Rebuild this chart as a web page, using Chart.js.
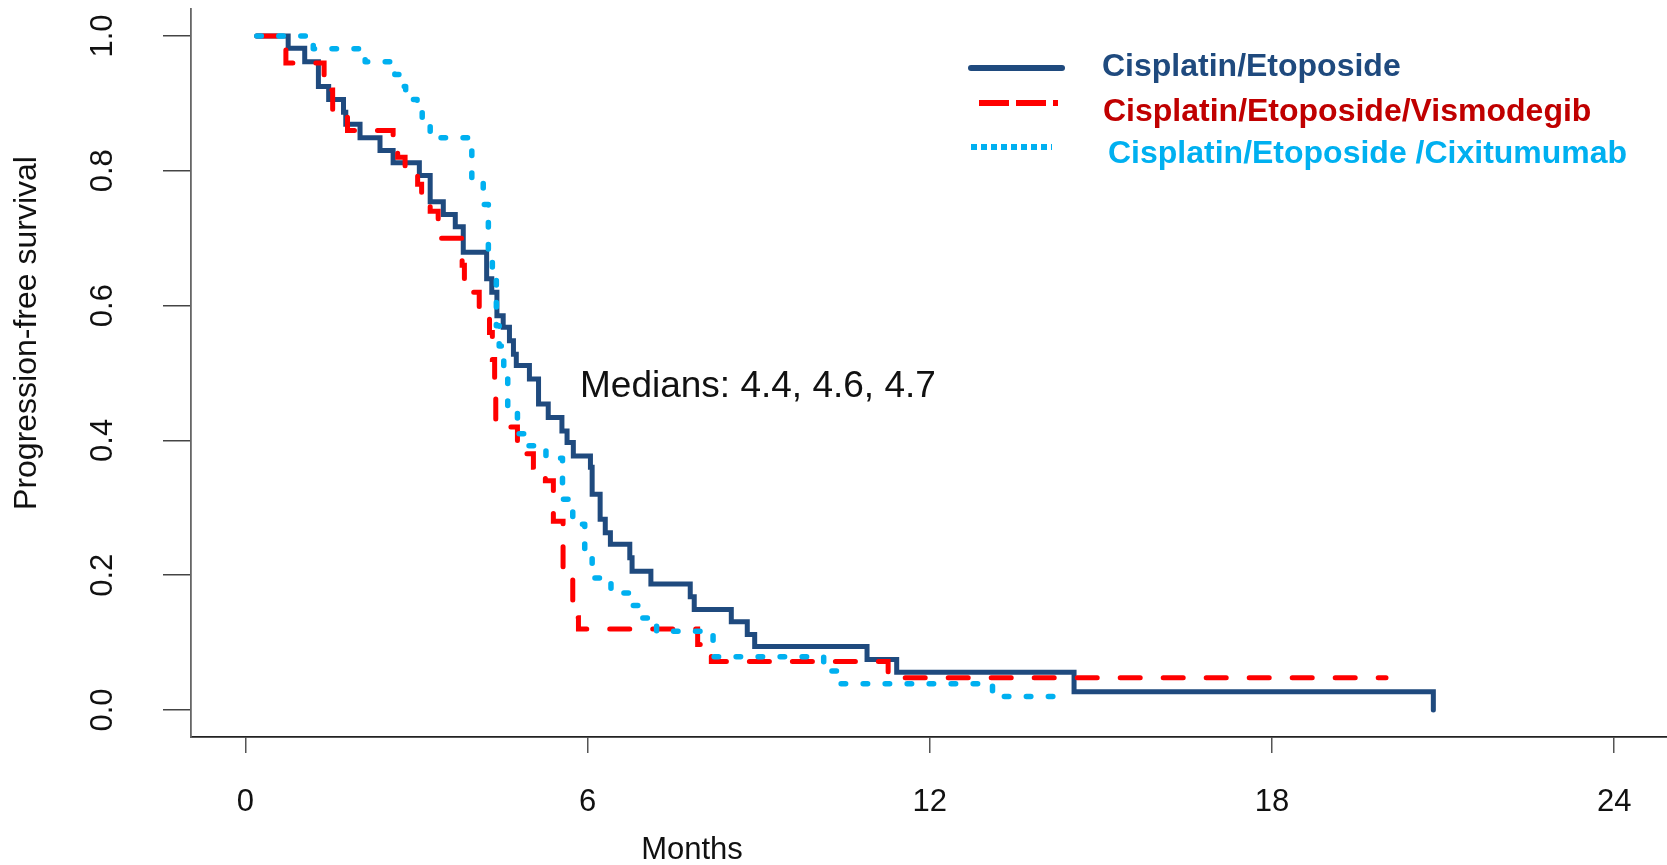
<!DOCTYPE html>
<html>
<head>
<meta charset="utf-8">
<script src="https://cdn.jsdelivr.net/npm/chart.js@4.4.1/dist/chart.umd.min.js"></script>
<style>
html,body{margin:0;padding:0;background:#ffffff;overflow:hidden}
canvas{display:block}
</style>
</head>
<body>
<canvas id="c" width="1667" height="865"></canvas>
<script>
// ---------------- DATA ----------------
const seriesNames = ['Cisplatin/Etoposide', 'Cisplatin/Etoposide/Vismodegib', 'Cisplatin/Etoposide /Cixitumumab'];

// Cisplatin/Etoposide (solid dark blue) : time (months) and survival after each step
const ceTimes = [0.2, 0.75, 1.04, 1.28, 1.46, 1.72, 1.76, 2.01, 2.36, 2.59, 3.05, 3.24, 3.47, 3.68, 3.82,
  4.23, 4.32, 4.41, 4.52, 4.63, 4.70, 4.75, 4.98, 5.14, 5.31, 5.55, 5.64, 5.75, 6.05, 6.08, 6.22, 6.31, 6.40,
  6.74, 6.78, 7.11, 7.80, 7.87, 8.52, 8.80, 8.93, 10.90, 11.42, 14.53, 20.83];
const ceSurv = [1.0, 0.982, 0.962, 0.925, 0.906, 0.887, 0.869, 0.849, 0.830, 0.812, 0.793, 0.754, 0.735, 0.717, 0.679,
  0.640, 0.620, 0.585, 0.568, 0.548, 0.528, 0.511, 0.491, 0.454, 0.434, 0.414, 0.397, 0.377, 0.360, 0.320, 0.283, 0.263, 0.246,
  0.226, 0.206, 0.187, 0.168, 0.149, 0.131, 0.112, 0.094, 0.075, 0.056, 0.027, 0.0];

// Cisplatin/Etoposide/Vismodegib (red dashed)
const cevTimes = [0.2, 0.61, 0.71, 1.38, 1.41, 1.53, 1.79, 2.59, 2.67, 2.80, 3.02, 3.09, 3.24, 3.38, 3.80, 3.84,
  3.99, 4.10, 4.28, 4.33, 4.37, 4.39, 4.77, 5.05, 5.26, 5.40, 5.57, 5.74, 5.84, 7.93, 8.17, 11.27, 20.0];
const cevSurv = [1.0, 0.98, 0.96, 0.94, 0.92, 0.88, 0.86, 0.84, 0.82, 0.80, 0.78, 0.76, 0.74, 0.70, 0.66, 0.64,
  0.62, 0.58, 0.56, 0.52, 0.48, 0.42, 0.38, 0.36, 0.34, 0.28, 0.21, 0.137, 0.12, 0.097, 0.072, 0.048, 0.048];

// Cisplatin/Etoposide/Cixitumumab (light blue dotted)
const cecTimes = [0.2, 1.19, 2.10, 2.62, 2.77, 2.81, 3.01, 3.10, 3.24, 3.97, 4.17, 4.26, 4.33, 4.40, 4.45, 4.53,
  4.60, 4.77, 4.93, 5.27, 5.56, 5.74, 5.95, 6.08, 6.41, 6.78, 6.92, 7.21, 8.20, 10.14, 10.38, 13.10, 14.21];
const cecSurv = [1.0, 0.981, 0.962, 0.943, 0.925, 0.906, 0.887, 0.868, 0.849, 0.79, 0.75, 0.68, 0.64, 0.57, 0.54, 0.51,
  0.45, 0.41, 0.392, 0.3735, 0.3125, 0.2754, 0.2357, 0.196, 0.1737, 0.155, 0.1365, 0.1167, 0.079, 0.058, 0.039, 0.020, 0.020];

const xTickValues = [0, 6, 12, 18, 24];
const yTickValues = [0, 0.2, 0.4, 0.6, 0.8, 1.0];
const xTitle = 'Months';
const yTitle = 'Progression-free survival';
const medianText = 'Medians: 4.4, 4.6, 4.7';

// ---------------- STYLE ----------------
const FONT = '"Liberation Sans", Arial, Helvetica, sans-serif';
const lineColors = ['#1F4A7E', '#FF0000', '#00B0F0'];
const legendTextColors = ['#1F4A7E', '#C00000', '#00B0F0'];

function toPoints(t, s) { return t.map((x, i) => ({ x: x, y: s[i] })); }

Chart.defaults.font.family = FONT;

const datasets = [
  { label: seriesNames[0], data: toPoints(ceTimes, ceSurv), borderColor: lineColors[0], borderWidth: 5,
    borderCapStyle: 'round', borderJoinStyle: 'miter', order: 3 },
  { label: seriesNames[1], data: toPoints(cevTimes, cevSurv), borderColor: lineColors[1], borderWidth: 5,
    borderDash: [20, 23], borderCapStyle: 'round', borderJoinStyle: 'miter', order: 2 },
  { label: seriesNames[2], data: toPoints(cecTimes, cecSurv), borderColor: lineColors[2], borderWidth: 5.5,
    borderDash: [4.5, 17.5], borderCapStyle: 'round', borderJoinStyle: 'round', order: 1 }
].map(d => Object.assign(d, { showLine: true, stepped: 'before', pointRadius: 0, pointHoverRadius: 0, fill: false, tension: 0 }));

// legend sample styles (legend is drawn manually to match placement)
const legendLayout = [
  { y: 68, lineX0: 971, lineX1: 1062, dash: [], cap: 'round', width: 6, textX: 1102, textY: 67 },
  { y: 103, lineX0: 979, lineX1: 1058, dash: [30, 7], cap: 'butt', width: 6, textX: 1103, textY: 112 },
  { y: 147, lineX0: 971, lineX1: 1052, dash: [6, 4], cap: 'butt', width: 6, textX: 1108, textY: 154 }
];

const textPlugin = {
  id: 'textPlugin',
  afterDraw(chart) {
    const ctx = chart.ctx;
    ctx.save();
    ctx.fillStyle = '#111111';
    // y axis title
    ctx.font = '32px ' + FONT;
    ctx.textAlign = 'center';
    ctx.textBaseline = 'middle';
    ctx.save();
    ctx.translate(27, 333);
    ctx.rotate(-Math.PI / 2);
    ctx.fillText(yTitle, 0, 0);
    ctx.restore();
    // x axis title
    ctx.font = '31px ' + FONT;
    ctx.textBaseline = 'alphabetic';
    ctx.fillText(xTitle, 692, 859);
    // medians annotation
    ctx.font = '37px ' + FONT;
    ctx.textAlign = 'left';
    ctx.fillText(medianText, 580, 397);
    // legend
    chart.data.datasets.forEach((ds, i) => {
      const L = legendLayout[i];
      ctx.save();
      ctx.strokeStyle = ds.borderColor;
      ctx.lineWidth = L.width;
      ctx.lineCap = L.cap;
      ctx.setLineDash(L.dash);
      ctx.beginPath();
      ctx.moveTo(L.lineX0, L.y);
      ctx.lineTo(L.lineX1, L.y);
      ctx.stroke();
      ctx.restore();
      ctx.font = 'bold 32px ' + FONT;
      ctx.fillStyle = legendTextColors[i];
      ctx.textAlign = 'left';
      ctx.textBaseline = 'middle';
      ctx.fillText(ds.label, L.textX, L.textY);
    });
    ctx.restore();
  }
};

new Chart(document.getElementById('c'), {
  type: 'scatter',
  data: { datasets: datasets },
  options: {
    responsive: false,
    animation: false,
    devicePixelRatio: 1,
    layout: { padding: { top: 9, left: 0, right: 0, bottom: 0 }, autoPadding: false },
    plugins: { legend: { display: false }, tooltip: { enabled: false } },
    events: [],
    scales: {
      x: {
        type: 'linear',
        position: 'bottom',
        min: -0.954,
        max: 24.927,
        afterBuildTicks: (scale) => { scale.ticks = xTickValues.map(v => ({ value: v })); },
        afterFit: (scale) => { scale.height = 128; scale.paddingLeft = 0; scale.paddingRight = 0; },
        ticks: {
          autoSkip: false, minRotation: 0, maxRotation: 0, padding: 31,
          font: { size: 31 }, color: '#111111',
          callback: (v) => String(v)
        },
        grid: { display: true, drawOnChartArea: false, drawTicks: true, tickLength: 16, color: '#555555', lineWidth: 1.5 },
        border: { display: true, color: '#222222', width: 1.8 }
      },
      y: {
        type: 'linear',
        position: 'left',
        min: -0.0401,
        max: 1.0401,
        afterBuildTicks: (scale) => { scale.ticks = yTickValues.map(v => ({ value: v })); },
        afterFit: (scale) => { scale.width = 191; scale.paddingTop = 0; scale.paddingBottom = 0; },
        ticks: {
          autoSkip: false, minRotation: 90, maxRotation: 90, crossAlign: 'center', padding: 38,
          font: { size: 31 }, color: '#111111',
          callback: (v) => Number(v).toFixed(1)
        },
        grid: { display: true, drawOnChartArea: false, drawTicks: true, tickLength: 28, color: '#444444', lineWidth: 1.5 },
        border: { display: true, color: '#666666', width: 1.8 }
      }
    }
  },
  plugins: [textPlugin]
});
</script>
</body>
</html>
